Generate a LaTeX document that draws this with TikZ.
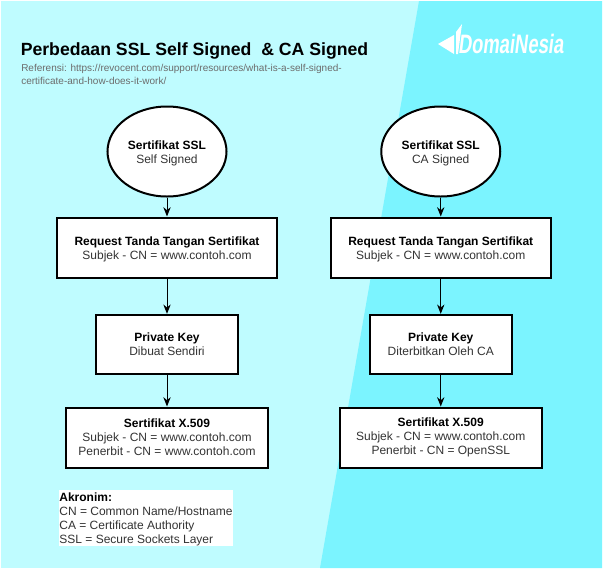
\documentclass[tikz,border=0pt]{standalone}
\usepackage{fontspec}
\setmainfont{Liberation Sans}
\definecolor{bgl}{HTML}{BFFCFF}
\definecolor{bgd}{HTML}{7BF4FF}
\definecolor{tgray}{HTML}{333333}
\tikzset{
 box/.style={draw=black,line width=1.5pt,fill=white,align=center,font=\fontsize{9}{10.5}\selectfont,text=tgray,inner sep=0pt},
 oval/.style={ellipse,box},
 conn/.style={draw=black,line width=0.75pt,-{Stealth[length=7pt,width=5.5pt]}},
}
\usetikzlibrary{shapes.geometric,arrows.meta}
\newcommand{\hd}[1]{{\rule{0pt}{8.7pt}\bfseries\color{black}#1}}
\newcommand{\hdn}[1]{{\bfseries\color{black}#1}}
\begin{document}
\begin{tikzpicture}[x=0.75pt,y=-0.75pt]
\useasboundingbox (0,0) rectangle (603,572);
\fill[bgl] (1,1) rectangle (602,568);
\fill[bgd] (419,1) -- (602,1) -- (602,568) -- (320,568) -- cycle;
% title
\node[anchor=west,inner sep=0pt,font=\bfseries\fontsize{13.25}{16}\selectfont] (title) at (20.5,51) {Perbedaan SSL Self Signed\ \ \& CA Signed};
\node[anchor=north west,inner sep=0pt,align=left,text=gray!85!black,font=\fontsize{7.5}{9.6}\selectfont] (ref) at (21,64) {Referensi: https://revocent.com/support/resources/what-is-a-self-signed-\\certificate-and-how-does-it-work/};
% logo
\fill[white] (438,44) -- (454,35) -- (454,54) -- cycle;
\fill[white] (456,32) -- (462,24) -- (458,54) -- (456,54) -- cycle;
\node[anchor=west,inner sep=0pt,text=white,font=\bfseries\fontsize{20}{22}\selectfont,xscale=0.69,xslant=0.18] (logo) at (459,44) {DomaiNesia};
% left column
\node[oval,minimum width=89.25pt,minimum height=67.5pt] (a1) at (167,151.5) {\hd{Sertifikat SSL}\\Self Signed};
\node[box,minimum width=165pt,minimum height=45pt] (a2) at (167,247.5) {\hd{Request Tanda Tangan Sertifikat}\\Subjek - CN = www.contoh.com};
\node[box,minimum width=106.5pt,minimum height=44.5pt] (a3) at (167,344.5) {\hdn{Private Key}\\Dibuat Sendiri};
\node[box,minimum width=151.5pt,minimum height=45pt] (a4) at (167,437.5) {\hdn{Sertifikat X.509}\\Subjek - CN = www.contoh.com\\Penerbit - CN = www.contoh.com};
\draw[conn] (a1) -- (a2);
\draw[conn] (a2) -- (a3);
\draw[conn] (a3) -- (a4);
% right column
\node[oval,minimum width=89.25pt,minimum height=67.5pt] (b1) at (440.75,151.5) {\hd{Sertifikat SSL}\\CA Signed};
\node[box,minimum width=165pt,minimum height=45pt] (b2) at (440.75,247.5) {\hd{Request Tanda Tangan Sertifikat}\\Subjek - CN = www.contoh.com};
\node[box,minimum width=106.5pt,minimum height=44.5pt] (b3) at (440.75,344.5) {\hdn{Private Key}\\Diterbitkan Oleh CA};
\node[box,minimum width=151.5pt,minimum height=45pt] (b4) at (440.75,437.5) {\hdn{Sertifikat X.509}\\Subjek - CN = www.contoh.com\\Penerbit - CN = OpenSSL};
\draw[conn] (b1) -- (b2);
\draw[conn] (b2) -- (b3);
\draw[conn] (b3) -- (b4);
% legend
\node[anchor=north west,fill=white,inner sep=0pt,align=left,text=tgray,minimum width=130pt,minimum height=41.5pt,font=\fontsize{9}{10.5}\selectfont] (leg) at (59,490) {\hd{Akronim:}\\CN = Common Name/Hostname\\CA = Certificate Authority\\SSL = Secure Sockets Layer};
\end{tikzpicture}
\end{document}
